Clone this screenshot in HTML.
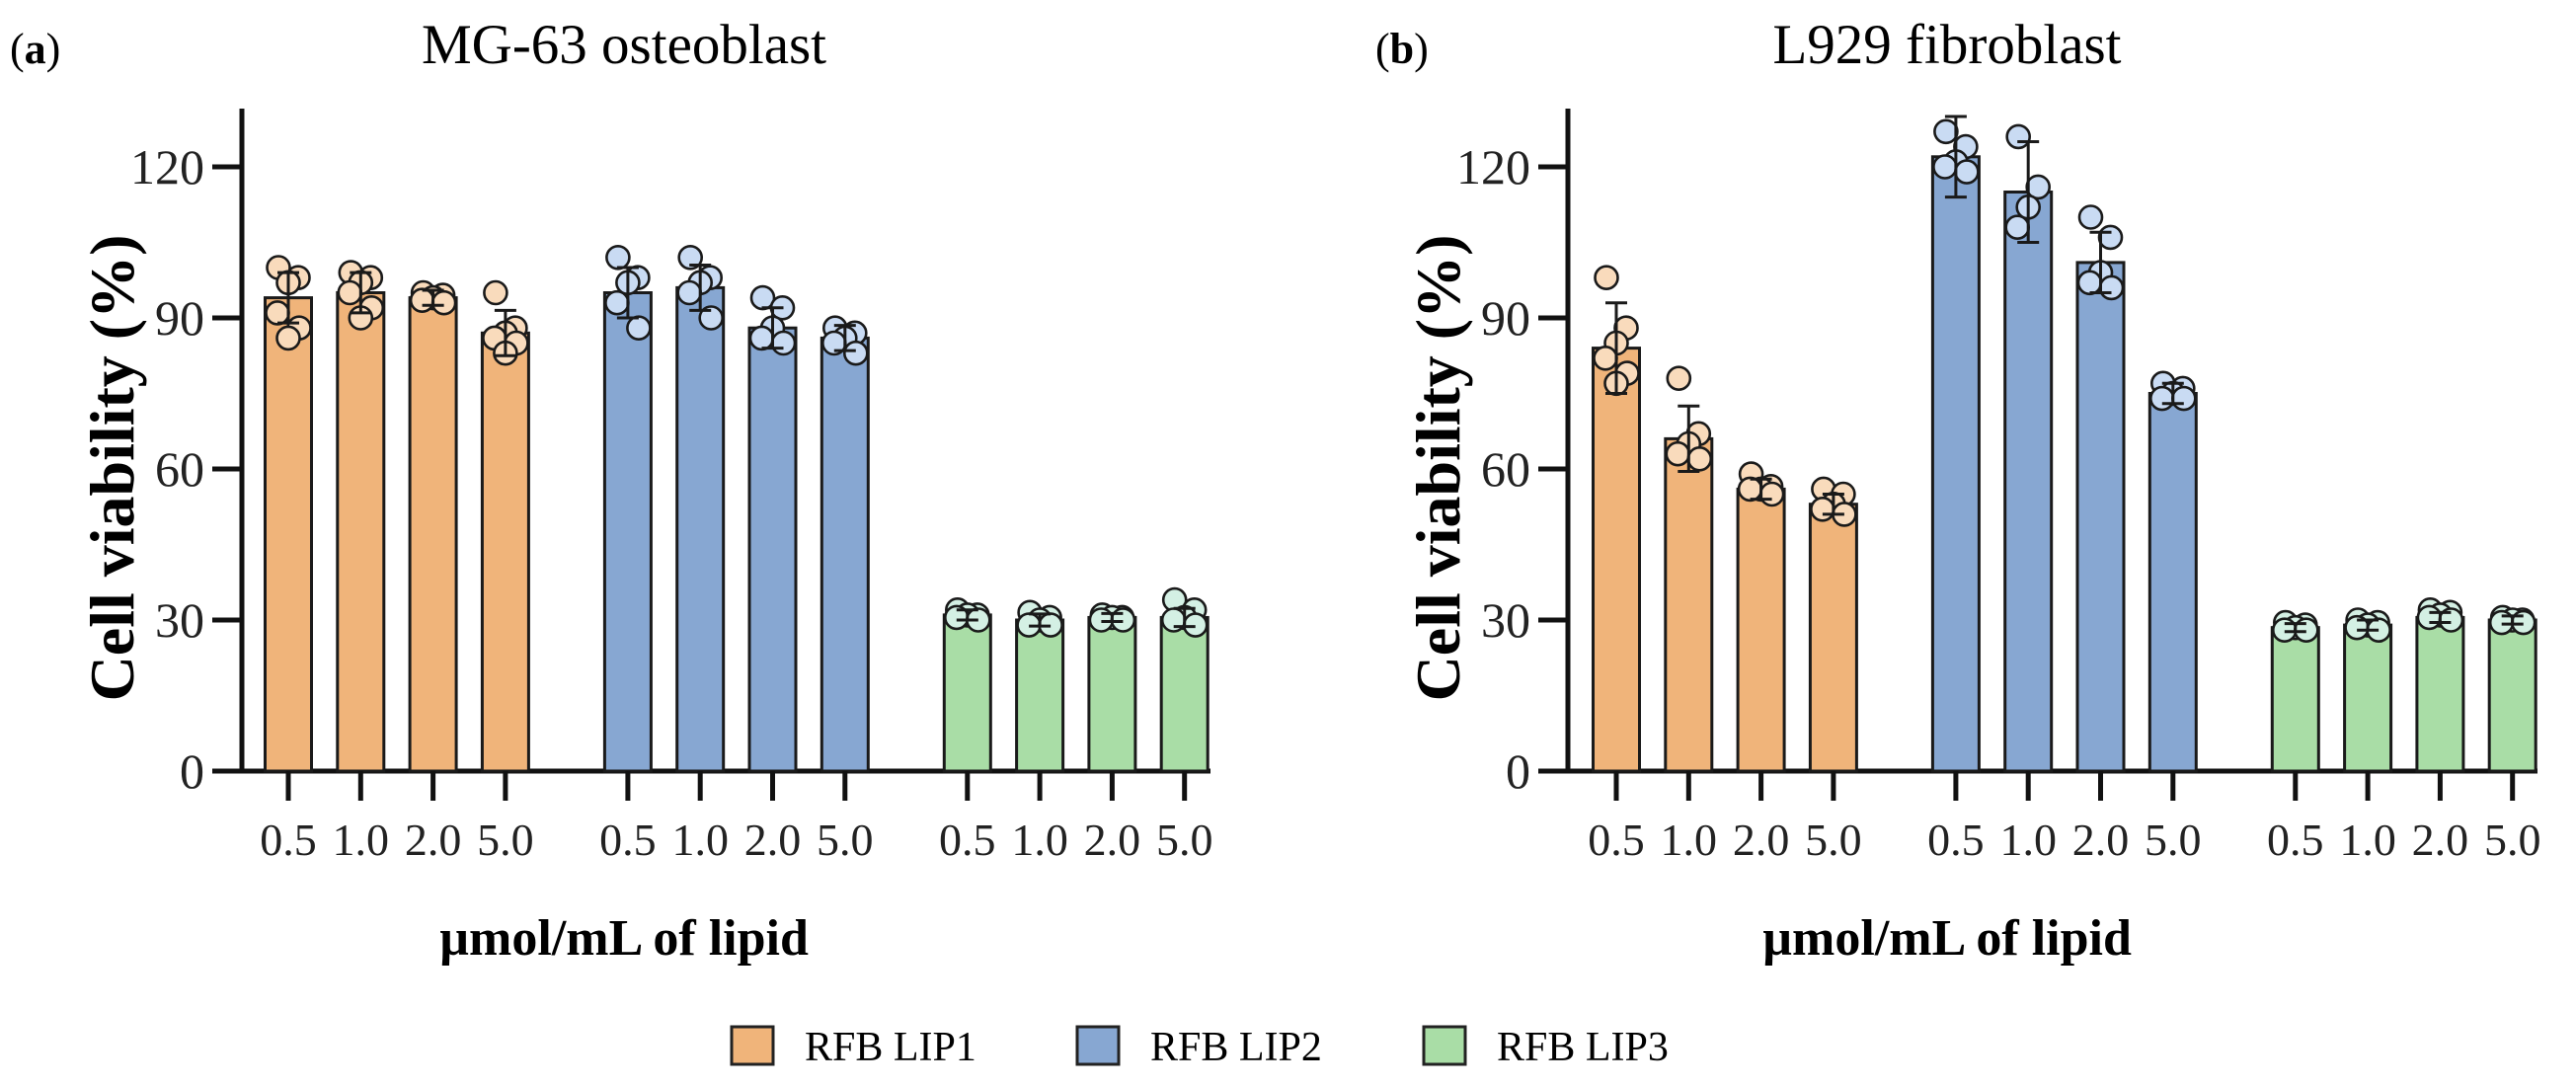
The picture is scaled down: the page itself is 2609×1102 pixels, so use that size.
<!DOCTYPE html>
<html><head><meta charset="utf-8"><style>
html,body{margin:0;padding:0;background:#fff;}
svg{display:block;font-family:"Liberation Serif",serif;}
</style></head><body>
<svg id="fig" width="2609" height="1102" viewBox="0 0 2609 1102" xmlns="http://www.w3.org/2000/svg">
<text x="10" y="64" font-size="44">(<tspan font-weight="bold">a</tspan>)</text>
<text x="632" y="64" font-size="57" text-anchor="middle">MG-63 osteoblast</text>
<text x="1393" y="64" font-size="44">(<tspan font-weight="bold">b</tspan>)</text>
<text x="1972" y="64" font-size="57" text-anchor="middle">L929 fibroblast</text>
<g id="legend">
<rect x="741" y="1040" width="42" height="38" fill="#F0B47A" stroke="#222" stroke-width="3"/>
<text x="815" y="1074" font-size="42">RFB LIP1</text>
<rect x="1091" y="1040" width="42" height="38" fill="#87A7D2" stroke="#222" stroke-width="3"/>
<text x="1165" y="1074" font-size="42">RFB LIP2</text>
<rect x="1442" y="1040" width="42" height="38" fill="#A9DDA6" stroke="#222" stroke-width="3"/>
<text x="1516" y="1074" font-size="42">RFB LIP3</text>
</g>
</svg>
<script>
// ---- data ----
const concentrations = ["0.5","1.0","2.0","5.0"];
const seriesNames = ["RFB LIP1","RFB LIP2","RFB LIP3"];
const yTicks = [0,30,60,90,120];
// Panel a (MG-63)
const aLip1Mean = [94, 95, 94, 87];
const aLip1Sd = [5, 4, 1.5, 4.5];
const aLip2Mean = [95, 96, 88, 86];
const aLip2Sd = [5, 4.5, 4, 2.5];
const aLip3Mean = [31, 30, 30.5, 30.5];
const aLip3Sd = [1, 1.2, 0.8, 1.8];
const aLip1Pts = [[100,98,97,91,88,86],[99,98,97,95,92,90],[95,94.5,94,93.5,93],[95,88,87,86,85,83]];
const aLip2Pts = [[102,98,97,93,88],[102,98,97,95,90],[94,92,88,86,85],[88,87,86,85,83]];
const aLip3Pts = [[32,31,31,30.5,30],[31.5,30.5,30,29,29],[31,30.5,30.5,30,30],[34,32,30.5,30,29]];
// Panel b (L929)
const bLip1Mean = [84, 66, 56, 53];
const bLip1Sd = [9, 6.5, 2, 2];
const bLip2Mean = [122, 115, 101, 75];
const bLip2Sd = [8, 10, 6, 2];
const bLip3Mean = [28.5, 29, 30.5, 30];
const bLip3Sd = [0.8, 1, 1, 0.8];
const bLip1Pts = [[98,88,85,82,79,77],[78,67,65,63,62],[59,56.5,56,56,55],[56,55,53,52,51]];
const bLip2Pts = [[127,124,121,120,119],[126,116,112,108],[110,106,99,97,96],[77,76,75,74,74]];
const bLip3Pts = [[29.5,29,28.5,28,28],[30,29.5,29,28.5,28],[32,31.5,31,30.5,30],[30.5,30,30,29.5,29.5]];

const NS = "http://www.w3.org/2000/svg";
const svg = document.getElementById("fig");
const fills = ["#F0B47A","#87A7D2","#A9DDA6"];
const ptFills = ["#F9DBBC","#C9DBF3","#D4F0E4"];
const Y0 = 781, PXU = 5.1, YTOP = 110;
function yScale(v){ return Y0 - v*PXU; }
function mk(tag, attrs, parent){
  const e = document.createElementNS(NS, tag);
  for (const k in attrs) e.setAttribute(k, attrs[k]);
  (parent||svg).appendChild(e);
  return e;
}
function panel(px, axisX, axisEnd, firstX, means, sds, pts, titleX){
  const g = mk("g", {});
  
  
  const step = 73.3, bw = 47;
  yTicks.forEach(t => {
    const y = yScale(t);
    const l = mk("line", {x1: axisX-30, x2: axisX, y1: y, y2: y, stroke: "#111", "stroke-width": 5}, g);
    
    
    const tx = mk("text", {x: axisX-38, y: y+17, "font-size": 50, "text-anchor": "end", fill: "#222"}, g);
    tx.textContent = t;
    
    
  });
  const ya = mk("line", {x1: axisX, x2: axisX, y1: YTOP, y2: Y0+2.5, stroke: "#111", "stroke-width": 5}, g);
  
  
  const xa = mk("line", {x1: axisX-2.5, x2: axisEnd, y1: Y0, y2: Y0, stroke: "#111", "stroke-width": 5}, g);
  
  
  for (let s = 0; s < 3; s++){
    for (let i = 0; i < concentrations.length; i++){
      const cx = firstX + s*(step*3 + 122) + i*step + (s*2);
      const m = means[s][i], sd = sds[s][i];
      const bar = mk("rect", {x: cx-bw/2, y: yScale(m), width: bw, height: Y0-yScale(m), fill: fills[s], stroke: "#1a1a1a", "stroke-width": 3}, g);
      
      
      const p = pts[s][i];
      const offs = [-10, 10, 0, -11, 11, 0];
      p.forEach((v, k) => {
        const c = mk("circle", {cx: cx + offs[k % offs.length], cy: yScale(v), r: 11.5, fill: ptFills[s], stroke: "#1a1a1a", "stroke-width": 2.6}, g);
        
        
      });
      const eb = mk("path", {d: `M${cx},${yScale(m-sd)} V${yScale(m+sd)} M${cx-11},${yScale(m+sd)} H${cx+11} M${cx-11},${yScale(m-sd)} H${cx+11}`, stroke: "#1a1a1a", "stroke-width": 3, fill: "none"}, g);
      
      
      const xt = mk("line", {x1: cx, x2: cx, y1: Y0, y2: Y0+30, stroke: "#111", "stroke-width": 5}, g);
      
      
      const lb = mk("text", {x: cx, y: 866, "font-size": 46, "text-anchor": "middle", fill: "#222"}, g);
      lb.textContent = concentrations[i];
      
      
    }
  }
  const xt = mk("text", {x: titleX, y: 967, "font-size": 52, "font-weight": "bold", "text-anchor": "middle"}, g);
  xt.textContent = "\u00b5mol/mL of lipid";
  
  
  const lx = axisX - 110;
  const yt = mk("text", {x: lx, y: 474, "font-size": 64, "font-weight": "bold", "text-anchor": "middle", transform: `rotate(-90 ${lx} 474)`}, g);
  yt.textContent = "Cell viability (%)";
  
  
}
panel("panel-a", 245, 1226, 292, [aLip1Mean,aLip2Mean,aLip3Mean], [aLip1Sd,aLip2Sd,aLip3Sd], [aLip1Pts,aLip2Pts,aLip3Pts], 632);
panel("panel-b", 1588, 2570, 1637, [bLip1Mean,bLip2Mean,bLip3Mean], [bLip1Sd,bLip2Sd,bLip3Sd], [bLip1Pts,bLip2Pts,bLip3Pts], 1972);
</script>
</body></html>
